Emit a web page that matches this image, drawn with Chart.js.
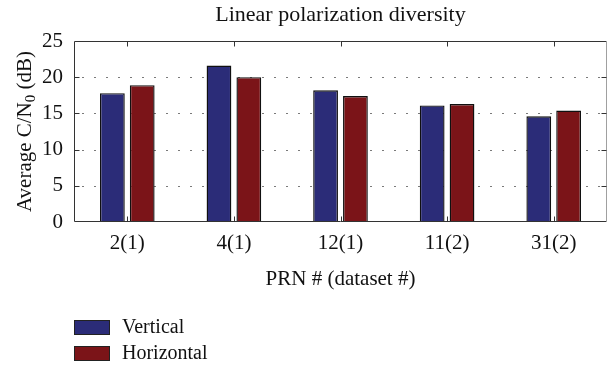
<!DOCTYPE html>
<html>
<head>
<meta charset="utf-8">
<script src="https://cdn.jsdelivr.net/npm/chart.js@4.4.1/dist/chart.umd.min.js"></script>
<style>
  html, body { margin: 0; padding: 0; background: #ffffff; }
  #wrap { width: 608px; height: 366px; position: relative; }
</style>
</head>
<body>
<div id="wrap"><canvas id="c" width="608" height="366"></canvas></div>
<script>
// PRN (dataset) categories and average C/N0 per polarization, dB
const categories = ['2(1)', '4(1)', '12(1)', '11(2)', '31(2)'];
const vertical   = [17.8, 21.6, 18.2, 16.1, 14.6];
const horizontal = [18.9, 20.0, 17.4, 16.3, 15.4];
const yTicks     = [0, 5, 10, 15, 20, 25];

const seriesNames  = ['Vertical', 'Horizontal'];
const seriesColors = ['#2b2c78', '#7b1418'];

const SERIF = '"Liberation Serif", "DejaVu Serif", serif';

// Frame, inward ticks, dotted grid, axis titles and a stacked legend
const decorations = {
  id: 'decorations',
  beforeDatasetsDraw(chart) {
    const { ctx, chartArea: a, scales: { y } } = chart;
    ctx.save();
    // dotted horizontal grid
    ctx.strokeStyle = '#7a7a7a';
    ctx.lineWidth = 1;
    ctx.setLineDash([2, 10]);
    yTicks.slice(1, -1).forEach(v => {
      const py = Math.round(y.getPixelForValue(v)) + 0.5;
      ctx.beginPath();
      ctx.moveTo(a.left + 8, py);
      ctx.lineTo(a.right - 6, py);
      ctx.stroke();
    });
    ctx.restore();
  },
  afterDatasetsDraw(chart) {
    const { ctx, chartArea: a, scales: { x, y } } = chart;
    ctx.save();
    ctx.setLineDash([]);
    ctx.lineWidth = 1;
    ctx.strokeStyle = '#333333';
    const L = Math.round(a.left) + 0.5, R = Math.round(a.right) - 0.5;
    const T = Math.round(a.top) + 0.5, B = Math.round(a.bottom) - 0.5;
    // frame
    ctx.beginPath();
    ctx.moveTo(R, T); ctx.lineTo(L, T); ctx.lineTo(L, B); ctx.lineTo(R, B);
    ctx.stroke();
    ctx.strokeStyle = '#a0a0a0';
    ctx.beginPath(); ctx.moveTo(R, T); ctx.lineTo(R, B); ctx.stroke();
    // inward ticks
    ctx.strokeStyle = '#333333';
    const tl = 5;
    categories.forEach((_, i) => {
      const px = Math.round(x.getPixelForValue(i)) + 0.5;
      ctx.beginPath();
      ctx.moveTo(px, T); ctx.lineTo(px, T + tl);
      ctx.moveTo(px, B); ctx.lineTo(px, B - tl);
      ctx.stroke();
    });
    yTicks.slice(1, -1).forEach(v => {
      const py = Math.round(y.getPixelForValue(v)) + 0.5;
      ctx.beginPath();
      ctx.moveTo(L, py); ctx.lineTo(L + tl, py);
      ctx.moveTo(R, py); ctx.lineTo(R - tl, py);
      ctx.stroke();
    });

    // title
    ctx.fillStyle = '#111111';
    ctx.font = '22px ' + SERIF;
    ctx.textAlign = 'center';
    ctx.textBaseline = 'middle';
    ctx.fillText('Linear polarization diversity', (a.left + a.right) / 2, 15);

    // y-axis title with subscript zero
    const parts = [
      { t: 'Average C/N', f: '21px ' + SERIF, dy: 0 },
      { t: '0', f: '15px ' + SERIF, dy: 4 },
      { t: ' (dB)', f: '21px ' + SERIF, dy: 0 }
    ];
    let total = 0;
    parts.forEach(p => { ctx.font = p.f; p.w = ctx.measureText(p.t).width; total += p.w; });
    ctx.translate(24, (a.top + a.bottom) / 2);
    ctx.rotate(-Math.PI / 2);
    ctx.textAlign = 'left';
    ctx.textBaseline = 'alphabetic';
    let cx = -total / 2;
    parts.forEach(p => {
      ctx.font = p.f;
      ctx.fillText(p.t, cx, 7 + p.dy);
      cx += p.w;
    });
    ctx.setTransform(1, 0, 0, 1, 0, 0);

    // stacked legend below the axis
    ctx.font = '20px ' + SERIF;
    ctx.textAlign = 'left';
    ctx.textBaseline = 'middle';
    seriesNames.forEach((name, i) => {
      const by = 320 + i * 26;
      ctx.fillStyle = seriesColors[i];
      ctx.fillRect(74, by, 36, 15);
      ctx.strokeStyle = '#222222';
      ctx.strokeRect(74.5, by + 0.5, 35, 14);
      ctx.fillStyle = '#111111';
      ctx.fillText(name, 122, by + 8);
    });
    ctx.restore();
  }
};

new Chart(document.getElementById('c'), {
  type: 'bar',
  data: {
    labels: categories,
    datasets: [
      { label: seriesNames[0], data: vertical,   backgroundColor: seriesColors[0] },
      { label: seriesNames[1], data: horizontal, backgroundColor: seriesColors[1] }
    ]
  },
  options: {
    responsive: false,
    animation: false,
    devicePixelRatio: 1,
    layout: { padding: { top: 41, left: 0, right: 1, bottom: 74 } },
    datasets: {
      bar: {
        categoryPercentage: 0.56,
        barPercentage: 0.83,
        borderColor: '#101010',
        borderWidth: 1.4
      }
    },
    plugins: {
      legend: { display: false },
      title: { display: false },
      tooltip: { enabled: false }
    },
    scales: {
      x: {
        grid: { display: false, drawTicks: false },
        border: { display: false },
        ticks: { color: '#111111', font: { family: SERIF, size: 21 }, padding: 9 },
        title: {
          display: true, text: 'PRN # (dataset #)', color: '#111111',
          font: { family: SERIF, size: 21 }, padding: { top: 10, bottom: 0 }
        },
        afterFit(s) { s.height = 70; }
      },
      y: {
        min: 0, max: 25,
        afterBuildTicks(s) { s.ticks = yTicks.map(v => ({ value: v })); },
        grid: { display: false, drawTicks: false },
        border: { display: false },
        ticks: { color: '#111111', font: { family: SERIF, size: 21 }, padding: 11 },
        afterFit(s) { s.width = 74; }
      }
    }
  },
  plugins: [decorations]
});
</script>
</body>
</html>
